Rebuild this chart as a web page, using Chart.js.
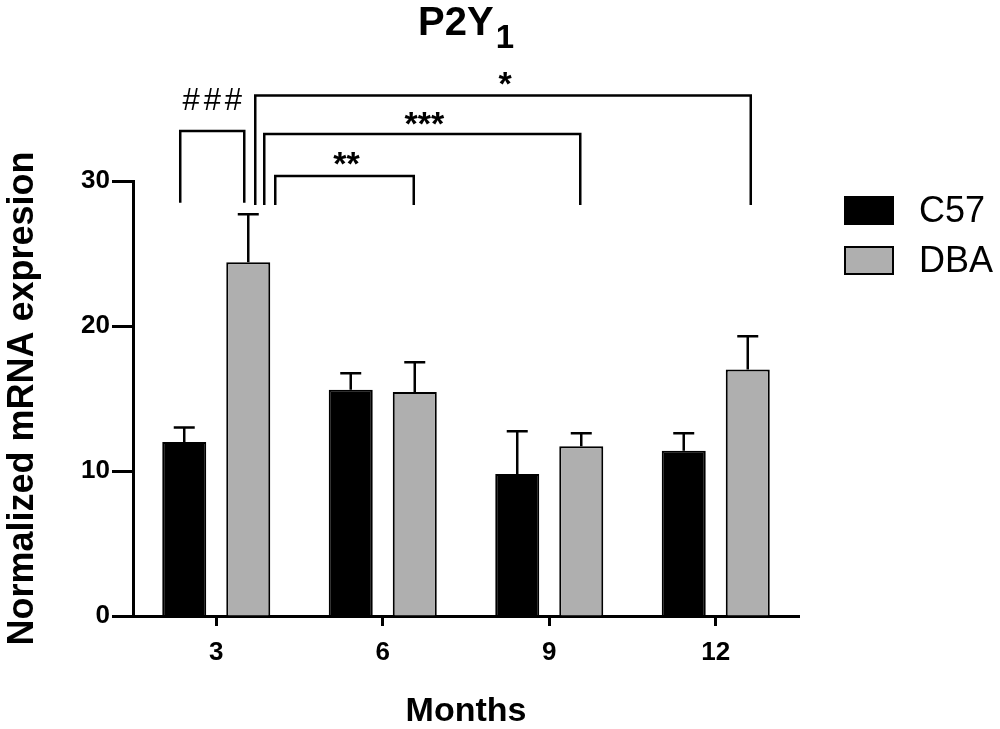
<!DOCTYPE html>
<html lang="en">
<head>
  <meta charset="UTF-8">
  <title>P2Y1 - Normalized mRNA expresion</title>
  <script src="https://cdn.jsdelivr.net/npm/chart.js"></script>
  <style>
    html, body { margin: 0; padding: 0; background: #fff; }
    #wrap { width: 1000px; height: 729px; }
  </style>
</head>
<body>
  <div id="wrap"><canvas id="chart" width="1000" height="729"></canvas></div>

  <script>
    // data (mean and upward SEM)
    const months = ['3', '6', '9', '12'];
    const c57Mean = [12.0, 15.6, 9.8, 11.4];
    const c57Sem = [1.0, 1.15, 2.95, 1.2];
    const dbaMean = [24.4, 15.45, 11.7, 17.0];
    const dbaSem = [3.3, 2.05, 0.9, 2.3];
    const yTicks = [0, 10, 20, 30];

    // significance brackets: ends are [month index, dataset index], heights in y units
    const brackets = [
      { text: '###', from: [0, 0], to: [0, 1], level: 33.45, foot: 28.5, dx: [-4, -4], gap: 32 },
      { text: '*', from: [0, 1], to: [3, 1], level: 35.9, foot: 28.35, dx: [7, 3], gap: 17 },
      { text: '***', from: [0, 1], to: [2, 1], level: 33.25, foot: 28.35, dx: [16, -1], gap: 15 },
      { text: '**', from: [0, 1], to: [1, 1], level: 30.35, foot: 28.35, dx: [27, -1], gap: 17 }
    ];

    const FONT = '"Liberation Sans", Arial, sans-serif';

    const extras = {
      id: 'extras',
      afterDatasetsDraw(chart) {
        const ctx = chart.ctx;
        const y = chart.scales.y;
        ctx.save();
        ctx.strokeStyle = '#000';
        ctx.lineWidth = 2.5;
        // error bars, upper half only
        chart.data.datasets.forEach((ds, di) => {
          chart.getDatasetMeta(di).data.forEach((bar, i) => {
            const top = y.getPixelForValue(ds.data[i] + ds.sem[i]);
            ctx.beginPath();
            ctx.moveTo(bar.x, bar.y);
            ctx.lineTo(bar.x, top);
            ctx.moveTo(bar.x - 10.5, top);
            ctx.lineTo(bar.x + 10.5, top);
            ctx.stroke();
          });
        });
        ctx.restore();
      },
      afterDraw(chart) {
        const ctx = chart.ctx;
        const y = chart.scales.y;
        ctx.save();

        // brackets
        ctx.strokeStyle = '#000';
        ctx.fillStyle = '#000';
        ctx.lineWidth = 2.5;
        brackets.forEach(b => {
          const x1 = chart.getDatasetMeta(b.from[1]).data[b.from[0]].x + b.dx[0];
          const x2 = chart.getDatasetMeta(b.to[1]).data[b.to[0]].x + b.dx[1];
          const yTop = y.getPixelForValue(b.level);
          const yFoot = y.getPixelForValue(b.foot);
          ctx.beginPath();
          ctx.moveTo(x1, yFoot);
          ctx.lineTo(x1, yTop);
          ctx.lineTo(x2, yTop);
          ctx.lineTo(x2, yFoot);
          ctx.stroke();

          if (b.text.startsWith('#')) {
            ctx.font = '31px ' + FONT;
            ctx.letterSpacing = '4px';
          } else {
            ctx.font = 'bold 34px ' + FONT;
            ctx.letterSpacing = '0px';
          }
          ctx.textAlign = 'center';
          ctx.textBaseline = 'alphabetic';
          const m = ctx.measureText(b.text);
          const cy = yTop - b.gap;
          ctx.fillText(b.text, (x1 + x2) / 2 + 2, cy + (m.actualBoundingBoxAscent - m.actualBoundingBoxDescent) / 2);
        });
        ctx.letterSpacing = '0px';

        // title with subscript
        ctx.textAlign = 'left';
        ctx.textBaseline = 'alphabetic';
        ctx.font = 'bold 40px ' + FONT;
        const main = 'P2Y';
        const wMain = ctx.measureText(main).width;
        ctx.font = 'bold 33px ' + FONT;
        const wSub = ctx.measureText('1').width;
        const tx = (chart.chartArea.left + chart.chartArea.right) / 2 - (wMain + wSub + 2) / 2;
        ctx.font = 'bold 40px ' + FONT;
        ctx.fillText(main, tx, 35);
        ctx.font = 'bold 33px ' + FONT;
        ctx.fillText('1', tx + wMain + 2, 48);

        // legend
        ctx.font = '36px ' + FONT;
        ctx.textBaseline = 'middle';
        chart.data.datasets.forEach((ds, i) => {
          const top = 197 + i * 50;
          ctx.fillStyle = ds.backgroundColor;
          ctx.fillRect(845, top, 48, 27);
          ctx.strokeStyle = '#000';
          ctx.lineWidth = 2;
          ctx.strokeRect(845, top, 48, 27);
          ctx.fillStyle = '#000';
          ctx.fillText(ds.label, 919, top + 15);
        });
        ctx.restore();
      }
    };

    const ctx = document.getElementById('chart').getContext('2d');
    new Chart(ctx, {
      type: 'bar',
      data: {
        labels: months,
        datasets: [
          { label: 'C57', data: c57Mean, sem: c57Sem, backgroundColor: '#000000', borderColor: '#000000', borderWidth: 2 },
          { label: 'DBA', data: dbaMean, sem: dbaSem, backgroundColor: '#afafaf', borderColor: '#000000', borderWidth: 2 }
        ]
      },
      options: {
        responsive: false,
        animation: false,
        devicePixelRatio: 1,
        layout: { padding: { left: 0, top: 181, right: 201, bottom: 0 } },
        datasets: { bar: { categoryPercentage: 0.769, barPercentage: 0.6875 } },
        plugins: {
          legend: { display: false },
          title: { display: false },
          tooltip: { enabled: false }
        },
        scales: {
          x: {
            offset: true,
            grid: { offset: false, drawOnChartArea: false, drawTicks: true, tickLength: 10, tickWidth: 3, tickColor: '#000' },
            border: { display: true, color: '#000', width: 3 },
            ticks: { color: '#000', padding: 11, font: { family: FONT, size: 26, weight: 'bold' } },
            title: { display: true, text: 'Months', color: '#000', padding: 0, font: { family: FONT, size: 34, weight: 'bold', lineHeight: 1 } },
            afterFit(scale) { scale.height = 113; }
          },
          y: {
            min: 0,
            max: 30,
            afterBuildTicks(scale) { scale.ticks = yTicks.map(v => ({ value: v })); },
            grid: { drawOnChartArea: false, drawTicks: true, tickLength: 21, tickWidth: 3, tickColor: '#000' },
            border: { display: true, color: '#000', width: 3 },
            ticks: { color: '#000', padding: 2, font: { family: FONT, size: 26, weight: 'bold' } },
            title: { display: true, text: 'Normalized mRNA expresion', color: '#000', padding: 5, font: { family: FONT, size: 36, weight: 'bold', lineHeight: 1 } },
            afterFit(scale) { scale.width = 133; }
          }
        }
      },
      plugins: [extras]
    });
  </script>
</body>
</html>
